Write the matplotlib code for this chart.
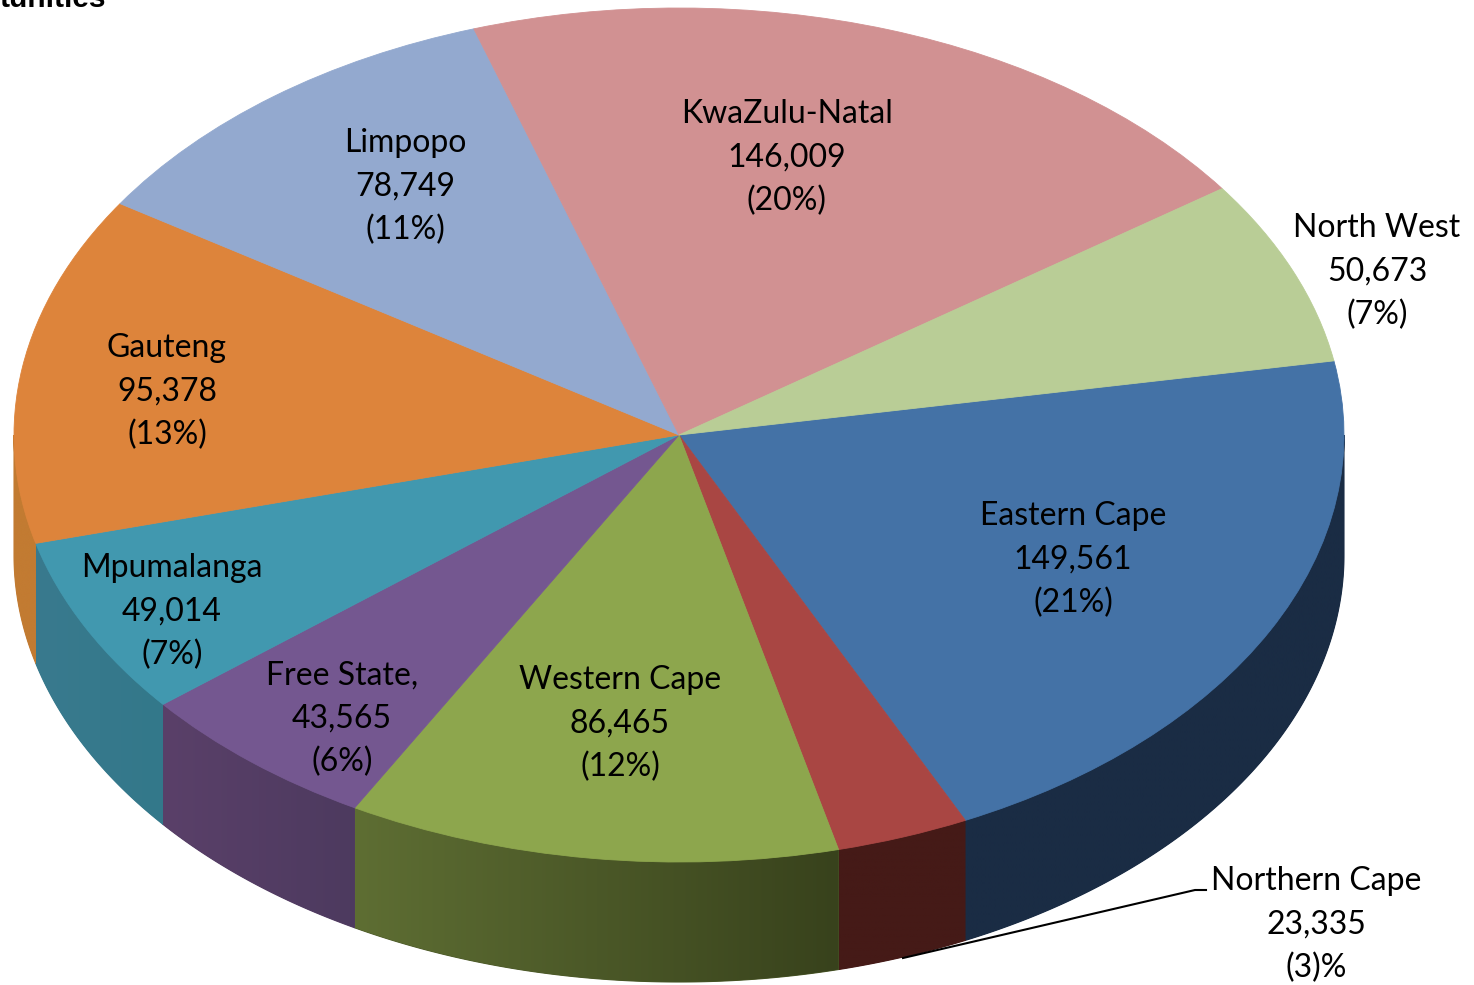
import numpy as np
import matplotlib
matplotlib.use("Agg")
import matplotlib.pyplot as plt
from matplotlib.colors import to_rgb
from matplotlib.patches import Polygon

W, H = 1474, 985
CX, CY, RX, RY, DEPTH = 679, 435, 665, 427, 120

provinces = ["Eastern Cape", "Northern Cape", "Western Cape", "Free State,", "Mpumalanga",
             "Gauteng", "Limpopo", "KwaZulu-Natal", "North West"]
values = [149561, 23335, 86465, 43565, 49014, 95378, 78749, 146009, 50673]
percents = ["(21%)", "(3)%", "(12%)", "(6%)", "(7%)", "(13%)", "(11%)", "(20%)", "(7%)"]
top_colors = ["#4472a6", "#a94643", "#8da64d", "#745790", "#4198af",
              "#dd843b", "#93a9cf", "#d19192", "#b9cd96"]
wall_left = ["#1a2c44", "#451a17", "#5e6e33", "#5a4069", "#397a8e",
             "#c27b32", "#c27b32", "#c27b32", "#c27b32"]
wall_right = ["#1a2c44", "#451a17", "#38421c", "#4d3a5f", "#33788a",
              "#c27b32", "#c27b32", "#c27b32", "#c27b32"]
label_px = [(1073, 560), (1316, 925), (620, 724), (342, 719), (172, 612),
            (167, 392), (405, 187), (787, 158), (1377, 272)]


def dx(x):
    return (x - CX) / RX


def dy(y):
    return (CY - y) / RY


fig = plt.figure(figsize=(W / 100, H / 100), dpi=100, facecolor="white")
ax = fig.add_axes([0, 0, 1, 1])
wedges, _ = ax.pie(values, colors=top_colors, startangle=10, counterclock=False, radius=1,
                   wedgeprops=dict(linewidth=0.6), normalize=True)
for w, c in zip(wedges, top_colors):
    w.set_edgecolor(c)
    w.set_zorder(5)

# side walls, derived from the pie's own wedge angles; horizontal gradient clipped to the wall
d = DEPTH / RY
for w, cl, cr in zip(wedges, wall_left, wall_right):
    for k in (-2, -1, 0, 1):
        a = max(w.theta1 + 360 * k, -180)
        b = min(w.theta2 + 360 * k, 0)
        if b <= a:
            continue
        t = np.radians(np.linspace(a, b, 200))
        x = np.cos(t)
        y = np.sin(t)
        c0, c1 = np.array(to_rgb(cl)), np.array(to_rgb(cr))
        mid = (c0 + c1) / 2
        poly = Polygon(np.column_stack([np.r_[x, x[::-1]], np.r_[y, y[::-1] - d]]),
                       closed=True, facecolor=mid, edgecolor=mid, lw=0.8,
                       transform=ax.transData, zorder=1.9)
        ax.add_patch(poly)
        grad = np.linspace(0, 1, 256)[None, :, None] * (c1 - c0) + c0
        im = ax.imshow(grad, extent=(x.min(), x.max(), y.min() - d, y.max()),
                       aspect="auto", origin="lower", zorder=2, interpolation="bilinear")
        im.set_clip_path(poly)

ax.set_aspect("auto")
ax.set_xlim(dx(0), dx(W))
ax.set_ylim(dy(H), dy(0))
ax.axis("off")

# leader line for Northern Cape
ax.plot([dx(1206), dx(1195), dx(903)], [dy(890), dy(890), dy(958)], color="black", lw=1.5, zorder=6)

for name, v, p, (lx, ly) in zip(provinces, values, percents, label_px):
    ax.text(dx(lx), dy(ly), f"{name}\n{v:,}\n{p}", ha="center", va="center", ma="center",
            family="Lato", fontsize=23, color="black", linespacing=1.55, zorder=7)

ax.text(dx(106), dy(7), "tunities", ha="right", va="baseline", family="Liberation Sans",
        weight="bold", fontsize=21.5, color="black", zorder=7)

fig.savefig("out.png", dpi=100)
